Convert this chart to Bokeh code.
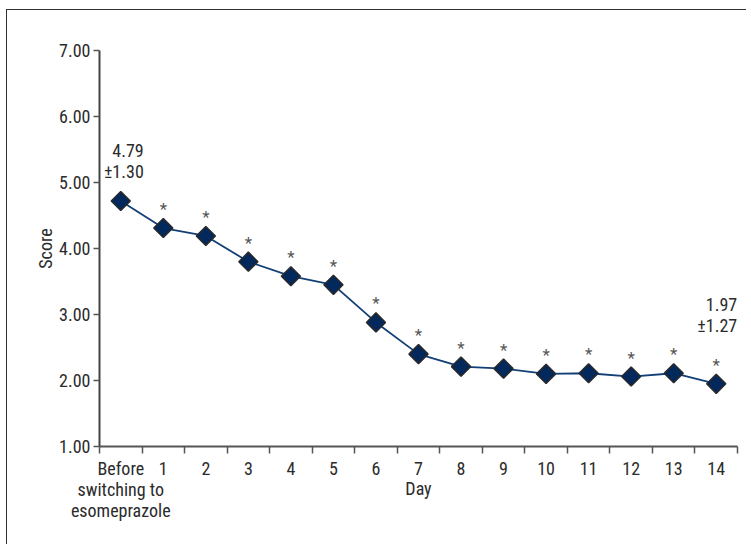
import math
from bokeh.plotting import figure
from bokeh.models import Range1d, FixedTicker, ColumnDataSource
from bokeh.core.properties import value
from bokeh.embed import file_html
from bokeh.resources import INLINE

# ---- data ----
day_labels = ["Before\nswitching to\nesomeprazole", "1", "2", "3", "4", "5", "6", "7",
              "8", "9", "10", "11", "12", "13", "14"]
scores = [4.72, 4.31, 4.19, 3.80, 3.58, 3.45, 2.88, 2.40, 2.21, 2.18, 2.10, 2.11, 2.06, 2.11, 1.95]
significant = [False] + [True] * 14
annot_index = [0, 14]
annot_text = ["4.79\n\u00b11.30", "1.97\n\u00b11.27"]
y_ticks = [1, 2, 3, 4, 5, 6, 7]

FONT = "'Liberation Sans Narrow', 'Noto Sans Condensed', 'Roboto Condensed', 'Open Sans Condensed', 'Roboto', sans-serif"
TXT = "#2b2b2b"
AX = "#555555"

xs = [i + 0.5 for i in range(len(day_labels))]

p = figure(width=740, height=535, output_backend="svg", toolbar_location=None,
           x_range=Range1d(0, len(day_labels)), y_range=Range1d(1, 7))
p.min_border_left = 92
p.min_border_right = 10
p.min_border_top = 40
p.min_border_bottom = 99
p.outline_line_color = None
p.grid.visible = False
p.styles = {"margin-left": "6px", "margin-top": "9px",
            "border-left": "1px solid #333333", "border-top": "1px solid #333333"}

xa = p.xaxis[0]
xa.ticker = FixedTicker(ticks=xs, minor_ticks=list(range(len(day_labels) + 1)))
xa.major_label_overrides = {x: lab for x, lab in zip(xs, day_labels)}
xa.major_tick_out = 0
xa.major_tick_in = 0
xa.minor_tick_out = 7
xa.minor_tick_in = 0
xa.minor_tick_line_color = AX
xa.minor_tick_line_width = 1.5
xa.axis_line_color = AX
xa.axis_line_width = 2
xa.major_label_standoff = 4
xa.major_label_text_font = FONT
xa.major_label_text_font_size = "18px"
xa.major_label_text_color = TXT
xa.major_label_text_line_height = 1.0
xa.axis_label = "Day"
xa.axis_label_text_font = FONT
xa.axis_label_text_font_size = "18px"
xa.axis_label_text_font_style = "normal"
xa.axis_label_text_color = TXT
xa.axis_label_standoff = -46

ya = p.yaxis[0]
ya.ticker = FixedTicker(ticks=y_ticks, minor_ticks=[])
ya.major_label_overrides = {t: "%.2f" % t for t in y_ticks}
ya.major_tick_out = 6
ya.major_tick_in = 0
ya.major_tick_line_color = AX
ya.major_tick_line_width = 1.5
ya.axis_line_color = "#444444"
ya.axis_line_width = 2
ya.major_label_standoff = 3
ya.major_label_text_font = FONT
ya.major_label_text_font_size = "18px"
ya.major_label_text_color = TXT
ya.axis_label = "Score"
ya.axis_label_text_font = FONT
ya.axis_label_text_font_size = "18px"
ya.axis_label_text_font_style = "normal"
ya.axis_label_text_color = TXT
ya.axis_label_standoff = 0

src = ColumnDataSource(dict(x=xs, y=scores))
p.line("x", "y", source=src, line_color="#123f75", line_width=1.8)
p.scatter("x", "y", source=src, marker="square", angle=math.pi / 4, size=13.5,
          fill_color="#02285c", line_color="#2a2a2a", line_width=1.5)

sx = [x for x, s in zip(xs, significant) if s]
sy = [y for y, s in zip(scores, significant) if s]
p.text(sx, sy, text=["*"] * len(sx), text_font=value(FONT), text_font_size="17px",
       text_color="#555555", text_align="center", text_baseline="middle", y_offset=-19)

p.text([xs[i] for i in annot_index], [scores[i] for i in annot_index], text=annot_text,
       text_font=value(FONT), text_font_size="18px", text_color=TXT,
       text_align="right", text_baseline="bottom", text_line_height=1.0,
       x_offset=[23, 21], y_offset=[-19, -48])

open("out.html", "w").write(file_html(p, INLINE))
